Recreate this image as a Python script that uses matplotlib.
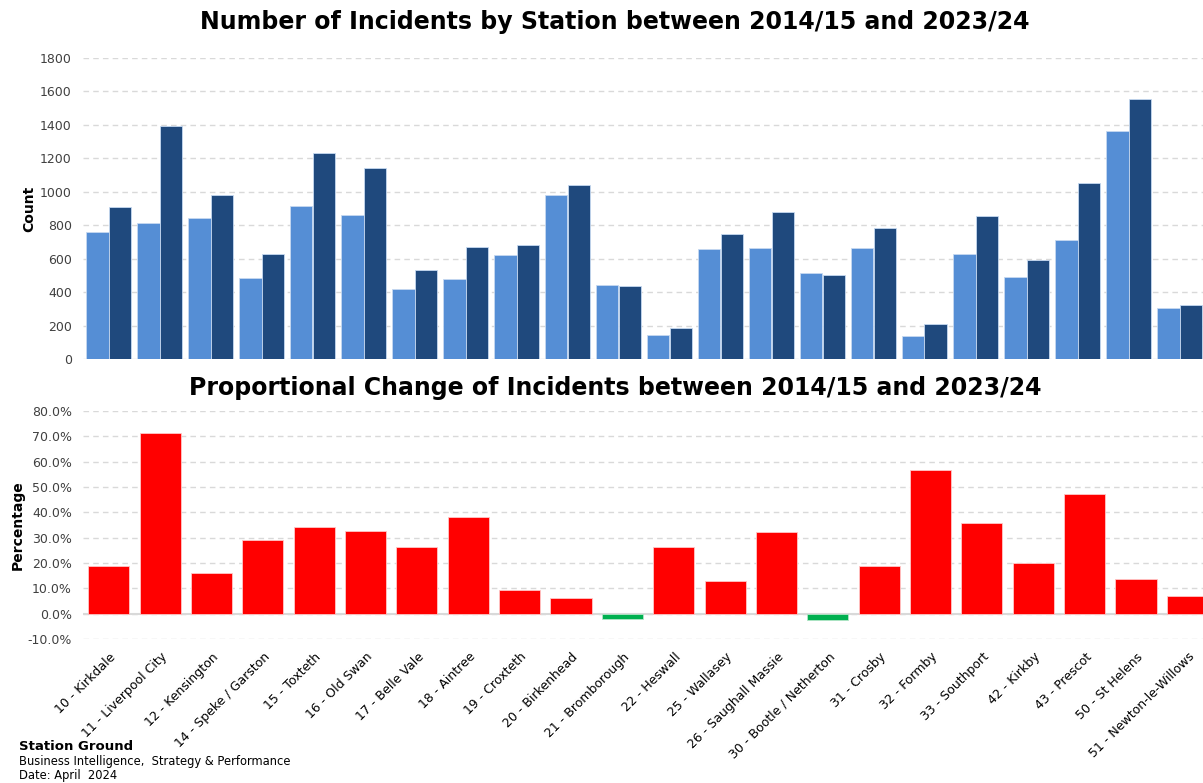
import matplotlib
matplotlib.use('Agg')
import matplotlib.pyplot as plt
import matplotlib.transforms as mtransforms
import numpy as np
from matplotlib.ticker import FuncFormatter

plt.rcParams['font.family'] = 'DejaVu Sans'

# =============================================================================
# Data
# =============================================================================
stations = ['10 - Kirkdale', '11 - Liverpool City', '12 - Kensington', '14 - Speke / Garston',
            '15 - Toxteth', '16 - Old Swan', '17 - Belle Vale', '18 - Aintree', '19 - Croxteth',
            '20 - Birkenhead', '21 - Bromborough', '22 - Heswall', '25 - Wallasey',
            '26 - Saughall Massie', '30 - Bootle / Netherton', '31 - Crosby', '32 - Formby',
            '33 - Southport', '42 - Kirkby', '43 - Prescot', '50 - St Helens', '51 - Newton-le-Willows']
count_1415 = [761, 811, 843, 487, 917, 859, 420, 481, 621, 979, 443,
              143, 658, 662, 515, 662, 135, 630, 491, 712, 1364, 302]
count_2324 = [911, 1392, 979, 630, 1229, 1140, 535, 668, 682, 1038, 436,
              183, 746, 877, 501, 785, 211, 855, 593, 1050, 1553, 320]
pct_change = [18.7, 71.2, 15.9, 28.9, 34.2, 32.7, 26.4, 38.1, 9.4, 6.2, -2.0,
              26.4, 12.8, 32.4, -2.5, 18.8, 56.7, 35.6, 20.0, 47.4, 13.7, 7.1]

light = '#558ed5'
dark = '#1f497d'
grid_c = '#d9d9d9'
tick_c = '#404040'

fig = plt.figure(figsize=(12.03, 7.83), dpi=100)
x = np.arange(len(stations))

# =============================================================================
# Counts by station
# =============================================================================
ax1 = fig.add_axes([83/1203, 1-359/783, (1205-83)/1203, (359-58)/783])
w = 0.44
ax1.bar(x-w/2, count_1415, width=w, color=light, edgecolor='#c6d9f1', linewidth=0.6, zorder=3)
ax1.bar(x+w/2, count_2324, width=w, color=dark, edgecolor='#c6d9f1', linewidth=0.6, zorder=3)
ax1.set_xlim(-0.5, len(stations)-0.5)
ax1.set_ylim(0, 1800)
ax1.set_yticks(np.arange(0, 1801, 200))
ax1.set_xticks([])
ax1.yaxis.grid(True, linestyle=(0, (4, 3)), color=grid_c, linewidth=1, zorder=0)
for s in ax1.spines.values():
    s.set_visible(False)
ax1.tick_params(axis='y', length=0, labelsize=9, labelcolor=tick_c, pad=8)
ax1.set_ylabel('Count', fontsize=10, fontweight='bold')
ax1.yaxis.set_label_coords((36-83)/1122, 0.5)
fig.text(615/1203, 1-22/783, 'Number of Incidents by Station between 2014/15 and 2023/24',
         ha='center', va='center', fontsize=17, fontweight='bold')

# =============================================================================
# Proportional change
# =============================================================================
ax2 = fig.add_axes([83/1203, 1-639/783, (1213-83)/1203, (639-411)/783])
cols = ['#ff0000' if v >= 0 else '#00b050' for v in pct_change]
edges = ['#ffc7c7' if v >= 0 else '#b3e6c8' for v in pct_change]
ax2.bar(x, pct_change, width=0.8, color=cols, edgecolor=edges, linewidth=0.6, zorder=3)
ax2.axhline(0, color=grid_c, linewidth=1.5, zorder=2)
ax2.set_xlim(-0.5, len(stations)-0.5)
ax2.set_ylim(-10, 80)
ax2.set_yticks(np.arange(-10, 81, 10))
ax2.yaxis.set_major_formatter(FuncFormatter(lambda v, p: '%.1f%%' % v))
ax2.yaxis.grid(True, linestyle=(0, (4, 3)), color=grid_c, linewidth=1, zorder=0)
for s in ax2.spines.values():
    s.set_visible(False)
ax2.tick_params(axis='y', length=0, labelsize=9, labelcolor=tick_c, pad=8)
ax2.tick_params(axis='x', length=0, pad=11.5)
ax2.set_xticks(x)
ax2.set_xticklabels(stations, rotation=45, ha='right', va='center',
                    rotation_mode='anchor', fontsize=9)
shift = mtransforms.ScaledTranslation(5/100, 0, fig.dpi_scale_trans)
for lab in ax2.get_xticklabels():
    lab.set_transform(lab.get_transform() + shift)
ax2.set_ylabel('Percentage', fontsize=10, fontweight='bold')
ax2.yaxis.set_label_coords((25-83)/1130, 0.5)
fig.text(615/1203, 1-388/783, 'Proportional Change of Incidents between 2014/15 and 2023/24',
         ha='center', va='center', fontsize=17, fontweight='bold')

# footer
fig.text(19/1203, 1-747/783, 'Station Ground', fontsize=9.5, fontweight='bold', va='center')
fig.text(19/1203, 1-762/783, 'Business Intelligence,  Strategy & Performance', fontsize=8.3, va='center')
fig.text(19/1203, 1-776/783, 'Date: April  2024', fontsize=8.3, va='center')

plt.savefig('out.png', dpi=100)
